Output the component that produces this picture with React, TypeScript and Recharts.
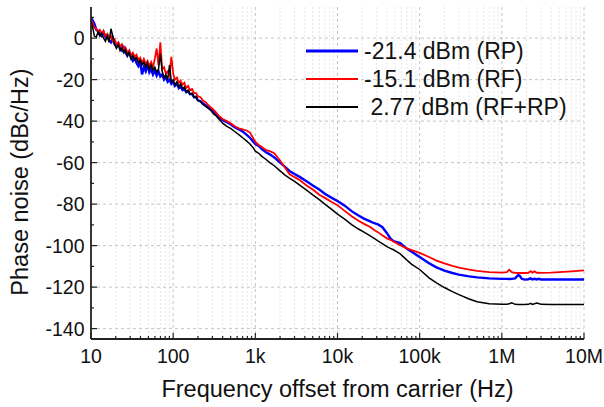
import React from 'react';
import {
  LineChart,
  Line,
  XAxis,
  YAxis,
  CartesianGrid,
  Legend,
} from 'recharts';

// offset frequency (Hz)
const freqLow = [
  10, 10.5, 11, 11.6, 12.2, 12.8, 13.5, 14.2, 15, 15.8,
  16.6, 17.5, 18.4, 19.4, 20.4, 21.5, 22.6, 23.8, 25, 26.3,
  27.7, 29.2, 30.7, 32.3, 34, 35.8, 37.7, 39.7, 41.8, 44,
  46.3, 48.7, 51.3, 54, 56.8, 59.8, 63, 66.3, 69.8, 73.5,
  77.4, 81.5, 85.8, 90.3, 95, 100, 105, 111, 117, 123,
  130, 137, 144, 152, 160, 170, 180, 190, 200, 215,
  230, 250, 270, 290, 310, 335, 360,
];
const freqHigh = [
  400, 450, 500, 560, 630, 700, 780, 860, 950, 1000,
  1100, 1200, 1350, 1500, 1700, 2000, 2300, 2600, 3000, 3500,
  4200, 5000, 6000, 7000, 8500, 1e4, 1.2e4, 1.5e4, 1.8e4, 2.1e4,
  2.5e4, 2.8e4, 3.1e4, 3.5e4, 4e4, 4.4e4, 4.8e4, 5.3e4, 5.8e4, 6.3e4,
  7e4, 8e4, 1e5, 1.3e5, 1.6e5, 2e5, 2.5e5, 3e5, 4e5, 5e5,
  7e5, 1e6, 1.15e6, 1.23e6, 1.32e6, 1.45e6, 1.58e6, 1.65e6, 1.75e6, 1.9e6,
  2.1e6, 2.25e6, 2.35e6, 2.5e6, 2.65e6, 2.8e6, 3e6, 4e6, 5e6, 7e6,
  1e7,
];

// phase noise (dBc/Hz), -21.4 dBm (RP)
const rpLow = [
  10, 8.5, 7, 4, 3.5, 2, 1, 3, 0.5, 1.5,
  -1, -2, 0, -3, -4, -2.5, -5, -6, -4.5, -7,
  -8.5, -6.5, -9.5, -11, -9.5, -12, -13.5, -11.5, -17.5, -14,
  -16, -13, -16.5, -15, -17.5, -15.5, -18, -16, -18.5, -17.5,
  -20, -19, -21, -20, -22, -21, -23, -22, -24, -23,
  -25, -24.5, -26, -25.5, -27, -27, -28.5, -28.5, -30, -30.5,
  -31.5, -32.5, -33.5, -34.5, -35.5, -37, -38.5,
];
const rpHigh = [
  -39.5, -40.5, -41.5, -43, -44, -45, -46.5, -48, -50, -51,
  -52, -53.5, -55, -56, -57.5, -60, -62, -64, -65.5, -67,
  -69, -71, -73, -75, -77, -78.5, -80.5, -83.5, -85.5, -87,
  -88.3, -89.2, -89.8, -91, -94, -96.5, -97.8, -98.3, -98.8, -100,
  -101.5, -103, -105.5, -108.5, -110.5, -112, -113.2, -114, -114.8, -115.3,
  -115.8, -116, -116, -116.1, -116, -115.8, -114.2, -114.5, -116, -116.4,
  -116.2, -115.8, -116.3, -116, -116.3, -116, -116.3, -116.3, -116.3, -116.3,
  -116.3,
];

// -15.1 dBm (RF)
const rfLow = [
  9, 7, 5, 4.5, 3, 4, 2, 3.5, 1, 2,
  0, 1, -1.5, -0.5, -3, -2, -4, -3, -5.5, -4.5,
  -7, -6, -8.5, -7, -9, -8, -10.5, -9.5, -12, -10,
  -12.5, -11, -13.5, -11.5, -14, -10, -5, -13, -2, -15,
  -14, -17, -16, -18, -9, -17, -20, -19, -21.5, -20.5,
  -22.5, -21.5, -24, -23, -25, -24.5, -26.5, -26.5, -28, -28.5,
  -30, -31, -32.5, -33.5, -34.5, -36, -37.5,
];
const rfHigh = [
  -39, -40, -41, -42.5, -43.5, -44, -44.5, -45.5, -48.5, -50,
  -51.5, -52.5, -54, -54.5, -55.5, -59, -62.5, -65.5, -67, -68.5,
  -71, -73, -75.5, -77, -79, -80.5, -83, -86, -88, -89.5,
  -91, -92.5, -93.5, -95, -96.5, -97.2, -98, -99, -99.8, -100.5,
  -101.3, -102.2, -103.5, -105.5, -107.2, -108.6, -109.8, -110.6, -111.6, -112.2,
  -112.8, -113, -112.8, -111.6, -112.8, -113.1, -113.2, -113.2, -113.2, -113.2,
  -113.1, -112.3, -113, -112.4, -113.1, -113, -113.1, -113, -112.8, -112.4,
  -111.9,
];

// 2.77 dBm (RF+RP)
const rfRpLow = [
  8, 5, 1, 0.5, 3, 1, 2.5, 0, -1.5, 1,
  -2, 4.5, 1, -3, -5, -3, -6, -4.5, -7, -5.5,
  -8.5, -7, -10, -8.5, -10.5, -9.5, -12, -10.5, -13, -11.5,
  -14, -12, -15, -13, -15.5, -14, -16.5, -15, -7.5, -16,
  -19, -17.5, -20, -13, -21, -20, -22.5, -21, -23.5, -22,
  -24.5, -23.5, -26, -25, -27, -26.5, -28.5, -28, -30, -30.5,
  -32, -33, -34, -35, -36.5, -37.5, -39,
];
const rfRpHigh = [
  -41, -42.5, -43.5, -45, -46.5, -48, -49.5, -51, -53, -54.5,
  -55.5, -57, -58.5, -60, -61.5, -64, -66, -67.5, -69, -71,
  -73.3, -75.5, -77.8, -80, -82.5, -84.8, -87, -90, -92, -93.5,
  -95.3, -96.5, -97.7, -99, -100.5, -101.3, -102, -103, -104, -105.3,
  -107, -109, -111.5, -115.5, -118, -120.2, -122.2, -123.6, -125.7, -127,
  -128, -128.3, -128.3, -128, -127.6, -128.3, -128.4, -128.4, -128.4, -128.4,
  -128.3, -127.8, -128.3, -128, -127.7, -127.9, -128.3, -128.4, -128.4, -128.4,
  -128.4,
];

const decades = [10, 100, 1e3, 1e4, 1e5, 1e6, 1e7];
const decadeLabels = ['10', '100', '1k', '10k', '100k', '1M', '10M'];
const minorFreqs = decades.slice(0, -1).flatMap((d) => [2, 3, 4, 5, 6, 7, 8, 9].map((m) => m * d));
const yMajor = [0, -20, -40, -60, -80, -100, -120, -140];
const yTicks = [10, 0, -10, -20, -30, -40, -50, -60, -70, -80, -90, -100, -110, -120, -130, -140];

const series = [
  { key: 'rp', name: '-21.4 dBm (RP)', color: '#0000ff', width: 2.4 },
  { key: 'rf', name: '-15.1 dBm (RF)', color: '#ff0000', width: 1.8 },
  { key: 'rfrp', name: '\u00a02.77 dBm (RF+RP)', color: '#000000', width: 1.5 },
];

const freqHz = [...freqLow, ...freqHigh];
const rp = [...rpLow, ...rpHigh];
const rf = [...rfLow, ...rfHigh];
const rfrp = [...rfRpLow, ...rfRpHigh];
const data = freqHz.map((f, i) => ({ f, rp: rp[i], rf: rf[i], rfrp: rfrp[i] }));

const FONT = '"Liberation Sans", Arial, sans-serif';

const XTick = (props: any) => {
  const { x, y, payload } = props;
  const idx = decades.indexOf(payload.value);
  const major = idx >= 0;
  return (
    <g>
      <line x1={x} y1={y} x2={x} y2={y - (major ? 6 : 3)} stroke="#222" strokeWidth={1.2} />
      {major && (
        <text x={x} y={y + 24} textAnchor="middle" fontSize={19.5} fill="#111" fontFamily={FONT}>
          {decadeLabels[idx]}
        </text>
      )}
    </g>
  );
};

const YTick = (props: any) => {
  const { x, y, payload } = props;
  const major = yMajor.includes(payload.value);
  return (
    <g>
      <line x1={x} y1={y} x2={x + (major ? 6 : 3)} y2={y} stroke="#222" strokeWidth={1.2} />
      {major && (
        <text x={x - 6.5} y={y + 7} textAnchor="end" fontSize={19.5} fill="#111" fontFamily={FONT}>
          {payload.value}
        </text>
      )}
    </g>
  );
};

const LegendBox = () => (
  <div style={{ fontFamily: FONT, fontSize: 23, color: '#111' }}>
    {series.map((s) => (
      <div key={s.key} style={{ display: 'flex', alignItems: 'center', height: 28, whiteSpace: 'pre' }}>
        <svg width={56} height={10} style={{ marginRight: 2 }}>
          <line x1={0} y1={5} x2={52} y2={5} stroke={s.color} strokeWidth={s.width + 0.4} />
        </svg>
        <span>{s.name}</span>
      </div>
    ))}
  </div>
);

export default function App() {
  return (
    <div style={{ position: 'absolute', left: 0, top: 0, background: '#fff' }}>
      <LineChart width={604} height={407} data={data} margin={{ top: 7, right: 20, left: 0, bottom: 0 }}>
        <CartesianGrid
          verticalValues={minorFreqs}
          horizontal={false}
          stroke="#e6e6e6"
          strokeDasharray="2 2"
        />
        <CartesianGrid
          verticalValues={decades}
          horizontalValues={yMajor}
          stroke="#c4c4c4"
          strokeDasharray="3 3"
        />
        <XAxis
          dataKey="f"
          type="number"
          scale="log"
          domain={[10, 1e7]}
          ticks={[...decades, ...minorFreqs].sort((a, b) => a - b)}
          interval={0}
          allowDataOverflow
          height={68}
          tickSize={0}
          tickMargin={0}
          tick={<XTick />}
          axisLine={{ stroke: '#222', strokeWidth: 1.8 }}
          label={{
            content: () => (
              <text x={337.5} y={397} textAnchor="middle" fontSize={23.5} fill="#111" fontFamily={FONT}>
                Frequency offset from carrier (Hz)
              </text>
            ),
          }}
        />
        <XAxis
          xAxisId="top"
          orientation="top"
          dataKey="f"
          type="number"
          scale="log"
          domain={[10, 1e7]}
          height={0}
          tick={false}
          tickLine={false}
          axisLine={{ stroke: '#222', strokeWidth: 1.8 }}
        />
        <YAxis
          type="number"
          domain={[-145, 15]}
          ticks={yTicks}
          interval={0}
          allowDataOverflow
          width={91}
          tickSize={0}
          tickMargin={0}
          tick={<YTick />}
          axisLine={{ stroke: '#222', strokeWidth: 1.8 }}
          label={{
            content: () => (
              <text
                x={28}
                y={182}
                transform="rotate(-90 28 182)"
                textAnchor="middle"
                fontSize={23.5}
                fill="#111"
                fontFamily={FONT}
              >
                Phase noise (dBc/Hz)
              </text>
            ),
          }}
        />
        <YAxis
          yAxisId="right"
          orientation="right"
          type="number"
          domain={[-145, 15]}
          width={0}
          tick={false}
          tickLine={false}
          axisLine={{ stroke: '#222', strokeWidth: 1.8 }}
        />
        <Legend
          layout="vertical"
          align="center"
          verticalAlign="middle"
          content={<LegendBox />}
          wrapperStyle={{ left: 306, top: 37, width: 290 }}
        />
        {series.map((s) => (
          <Line
            key={s.key}
            dataKey={s.key}
            name={s.name}
            type="linear"
            stroke={s.color}
            strokeWidth={s.width}
            dot={false}
            activeDot={false}
            isAnimationActive={false}
          />
        ))}
      </LineChart>
    </div>
  );
}
